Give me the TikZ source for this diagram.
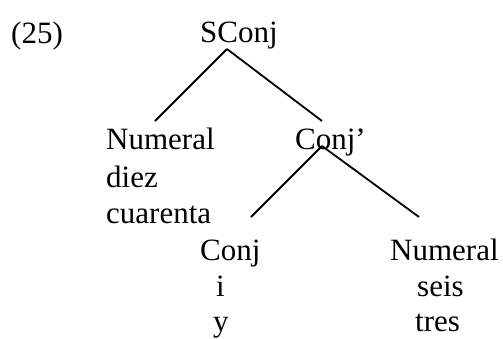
\documentclass[tikz,border=0pt]{standalone}
\usepackage{fontspec}
\setmainfont{Liberation Serif}
\begin{document}
\begin{tikzpicture}[x=1pt,y=-1pt,
  lbl/.style={anchor=base west,inner sep=0pt,font=\fontsize{31}{36}\selectfont},
  branch/.style={line width=1.8pt}]
\useasboundingbox (0,0) rectangle (503,338);
% labels
\node[lbl] (ex) at (11,43) {(25)};
\node[lbl] (sconj) at (200,42) {SConj};
\node[lbl] (numA) at (106,149) {Numeral};
\node[lbl] (diez) at (106,187) {diez};
\node[lbl] (cuar) at (106,223) {cuarenta};
\node[lbl] (conjbar) at (295,149) {Conj’};
\node[lbl] (conj) at (200,260) {Conj};
\node[lbl] (i) at (216,296) {i};
\node[lbl] (y) at (213,331) {y};
\node[lbl] (numB) at (390,260) {Numeral};
\node[lbl] (seis) at (417,296) {seis};
\node[lbl] (tres) at (415,331) {tres};
% branch end points
\coordinate (sconj-foot) at (227,49);
\coordinate (numA-head) at (155,121);
\coordinate (conjbar-head) at (322,121);
\coordinate (conjbar-foot) at (322,146);
\coordinate (conj-head) at (251,217);
\coordinate (numB-head) at (419,217);
% branches
\draw[branch] (sconj-foot) -- (numA-head);
\draw[branch] (sconj-foot) -- (conjbar-head);
\draw[branch] (conjbar-foot) -- (conj-head);
\draw[branch] (conjbar-foot) -- (numB-head);
\end{tikzpicture}
\end{document}
